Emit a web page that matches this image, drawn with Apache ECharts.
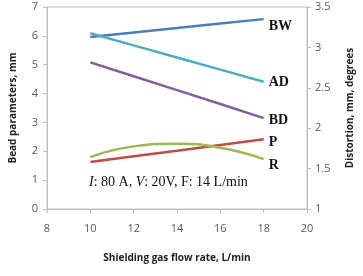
<!DOCTYPE html>
<html>
<head>
<meta charset="utf-8">
<script src="https://cdn.jsdelivr.net/npm/echarts@6/dist/echarts.min.js"></script>
<style>
  html, body { margin: 0; padding: 0; background: #fff; }
  #chart { width: 363px; height: 276px; }
</style>
</head>
<body>
<div id="chart"></div>
<script>
// shielding gas flow rate, L/min
const flowRates = [10, 12, 14, 16, 18]

// bead parameters (mm, left axis scale)
const bw = [5.96, 6.12, 6.27, 6.43, 6.58]
const ad = [6.09, 5.67, 5.25, 4.83, 4.41]
const bd = [5.08, 4.6, 4.12, 3.64, 3.15]
const p = [1.63, 1.83, 2.02, 2.22, 2.42]
const r = [1.8, 2.17, 2.26, 2.12, 1.73]

const names = ['BW', 'AD', 'BD', 'P', 'R']
const colors = ['#4a7ebb', '#4bacc6', '#7d60a0', '#be4b48', '#98b954']

const chart = echarts.init(document.getElementById('chart'))

const makeSeries = (name, vals, color, smooth, offset) => ({
  name: name,
  type: 'line',
  data: flowRates.map((x, i) => [x, vals[i]]),
  smooth: smooth,
  symbol: 'none',
  lineStyle: { color: color, width: 2.5 },
  itemStyle: { color: color },
  endLabel: {
    show: true,
    formatter: name,
    fontFamily: 'Liberation Serif',
    fontWeight: 'bold',
    fontSize: 14,
    color: '#111',
    distance: 5,
    offset: offset
  },
  z: 3
})

const axisText = { color: '#595959', fontSize: 11, fontFamily: 'Open Sans' }
const axisLine = { show: true, lineStyle: { color: '#bfbfbf', width: 1 } }
const axisTick = { show: true, length: 4, lineStyle: { color: '#bfbfbf' } }
const nameStyle = { fontFamily: 'Open Sans', fontSize: 10, fontWeight: 'bold', color: '#222' }

const option = {
  animation: false,
  grid: { left: 41, right: 45, top: 7, bottom: 67, show: true, borderColor: '#bfbfbf', borderWidth: 1 },
  xAxis: {
    type: 'value', min: 8, max: 20, interval: 2,
    name: 'Shielding gas flow rate, L/min',
    nameLocation: 'middle', nameGap: 44,
    nameTextStyle: nameStyle,
    axisLine: axisLine, axisTick: axisTick,
    axisLabel: Object.assign({ margin: 14 }, axisText),
    splitLine: { show: false }
  },
  yAxis: [
    {
      type: 'value', min: 0, max: 7, interval: 1,
      name: 'Bead parameters, mm',
      nameLocation: 'middle', nameGap: 29,
      nameTextStyle: nameStyle,
      axisLine: axisLine, axisTick: axisTick,
      axisLabel: Object.assign({ margin: 9 }, axisText),
      splitLine: { show: false }
    },
    {
      type: 'value', min: 1, max: 3.5, interval: 0.5,
      name: 'Distortion, mm, degrees',
      nameLocation: 'middle', nameGap: 38,
      nameTextStyle: nameStyle,
      axisLine: axisLine, axisTick: axisTick,
      axisLabel: Object.assign({ margin: 8 }, axisText),
      splitLine: { show: false }
    }
  ],
  series: [
    makeSeries(names[0], bw, colors[0], false, [0, 7]),
    makeSeries(names[1], ad, colors[1], false, [0, 1]),
    makeSeries(names[2], bd, colors[2], false, [0, 2]),
    makeSeries(names[3], p, colors[3], false, [0, 3]),
    makeSeries(names[4], r, colors[4], true, [0, 6])
  ],
  graphic: [{
    type: 'text',
    left: 89,
    top: 175,
    style: {
      text: '{i|I}: 80 A, {i|V}: 20V, F: 14 L/min',
      font: '14px "Liberation Serif"',
      fill: '#111',
      rich: {
        i: { fontStyle: 'italic', fontFamily: 'Liberation Serif', fontSize: 14 }
      }
    }
  }]
}

chart.setOption(option)
</script>
</body>
</html>
